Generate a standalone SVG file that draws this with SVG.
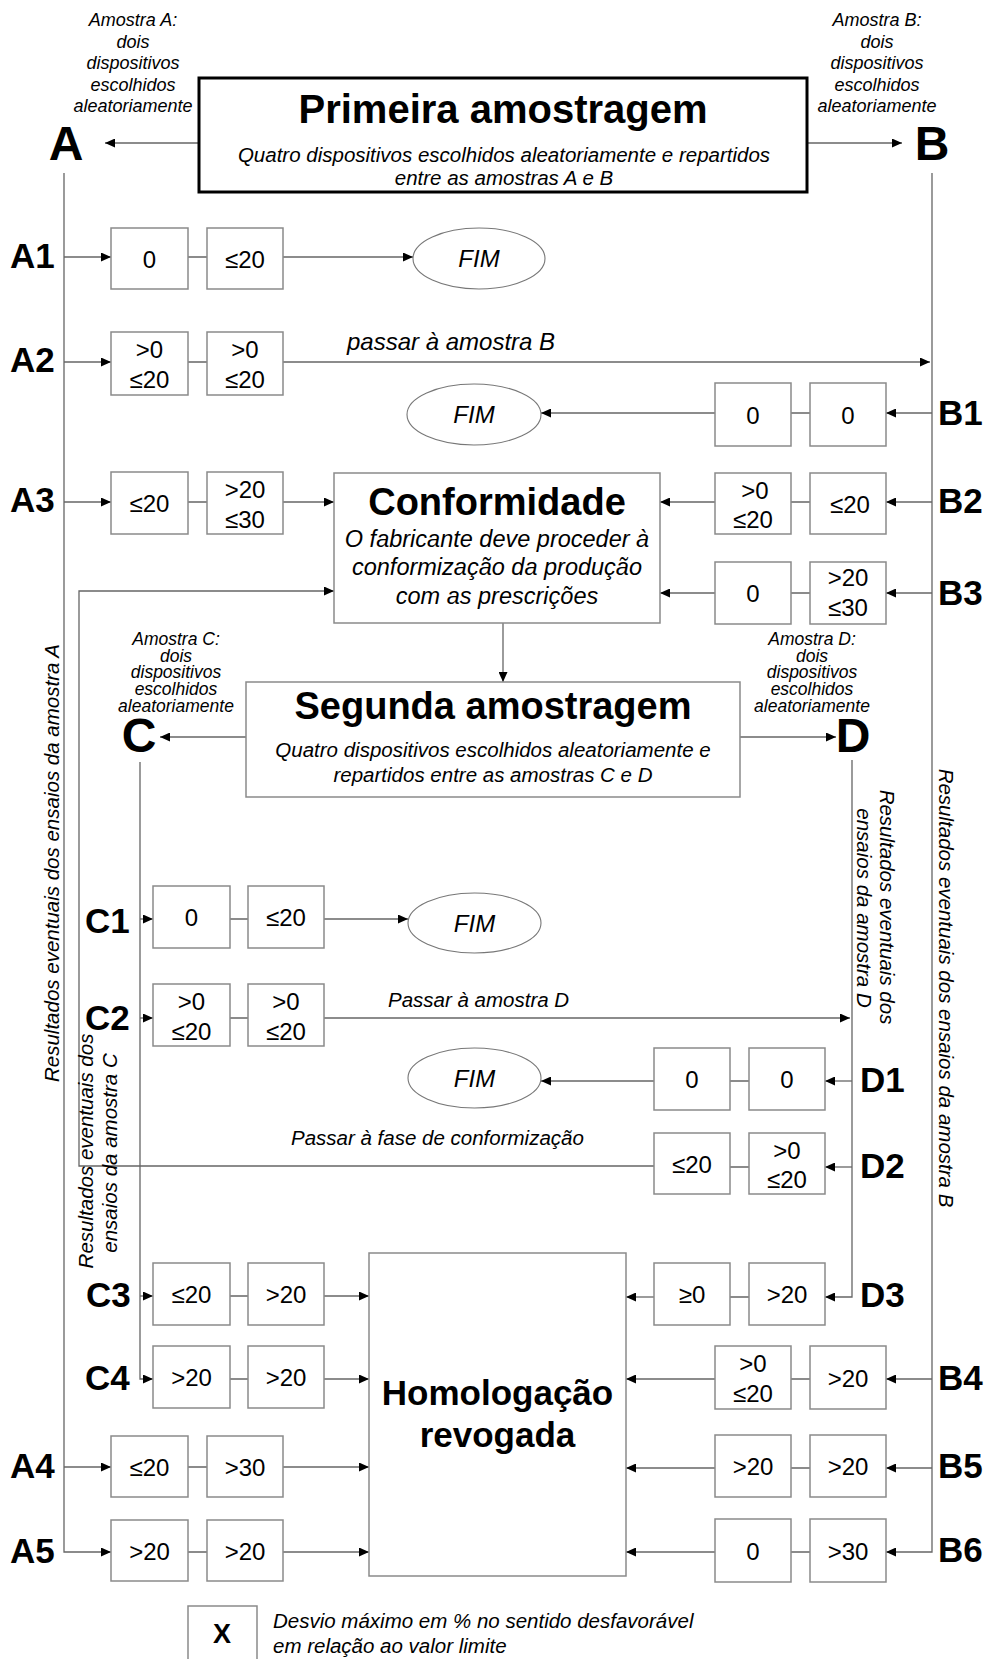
<svg xmlns="http://www.w3.org/2000/svg" width="989" height="1659" viewBox="0 0 989 1659">
<defs>
<marker id="ah" markerUnits="userSpaceOnUse" markerWidth="11" markerHeight="9" refX="10" refY="4.5" orient="auto">
<path d="M0,0 L10,4.5 L0,9 z" fill="#000"/>
</marker>
<style>
.box{fill:#fff;stroke:#8a8a8a;stroke-width:1.5}
.big{fill:#fff;stroke:#8a8a8a;stroke-width:1.5}
.thick{fill:#fff;stroke:#000;stroke-width:3}
.fim{fill:#fff;stroke:#777;stroke-width:1.1}
.conn{stroke:#666;stroke-width:1.3;fill:none}
.arr{marker-end:url(#ah)}
text{font-family:"Liberation Sans",Arial,sans-serif;fill:#000}
.val{font-size:24px;text-anchor:middle}
.lbl{font-size:35px;font-weight:bold}
.let{font-size:48px;font-weight:bold;text-anchor:middle}
.it{font-style:italic}
.sm{font-size:18px;font-style:italic;text-anchor:middle}
.smc{font-size:17.5px;font-style:italic;text-anchor:middle}
.body{font-size:20.5px;font-style:italic}
.mid{text-anchor:middle}
.ttl{font-weight:bold;text-anchor:middle}
</style>
</defs>
<rect width="989" height="1659" fill="#fff"/>

<g id="connectors">
<!-- top sample arrows -->
<path class="conn arr" d="M199,143 H105"/>
<path class="conn arr" d="M807,143 H902"/>
<!-- A trunk -->
<path class="conn arr" d="M64,173 V1552 H111"/>
<path class="conn arr" d="M64,257 H111"/>
<path class="conn arr" d="M64,362 H111"/>
<path class="conn arr" d="M64,502 H111"/>
<path class="conn arr" d="M64,1467 H111"/>
<!-- B trunk -->
<path class="conn arr" d="M932,173 V1552 H886"/>
<path class="conn arr" d="M932,413 H886"/>
<path class="conn arr" d="M932,502 H886"/>
<path class="conn arr" d="M932,593 H886"/>
<path class="conn arr" d="M932,1379 H886"/>
<path class="conn arr" d="M932,1468 H886"/>
<!-- C trunk -->
<path class="conn arr" d="M140,762 V1379 H153"/>
<path class="conn arr" d="M140,919 H153"/>
<path class="conn arr" d="M140,1018 H153"/>
<path class="conn arr" d="M140,1296 H153"/>
<!-- D trunk -->
<path class="conn arr" d="M852,760 V1297 H825"/>
<path class="conn arr" d="M852,1081 H825"/>
<path class="conn arr" d="M852,1167 H825"/>
<!-- pair links -->
<path class="conn" d="M188,257 H207 M188,362 H207 M188,502 H207 M188,1467 H207 M188,1552 H207"/>
<path class="conn" d="M230,919 H248 M230,1018 H248 M230,1296 H248 M230,1379 H248"/>
<path class="conn" d="M791,413 H810 M791,502 H810 M791,593 H810 M791,1379 H810 M791,1468 H810 M791,1552 H810"/>
<path class="conn" d="M730,1081 H749 M730,1167 H749 M730,1297 H749"/>
<!-- outcomes -->
<path class="conn arr" d="M283,257 H413"/>
<path class="conn arr" d="M283,362 H930"/>
<path class="conn arr" d="M715,413 H541"/>
<path class="conn arr" d="M283,502 H334"/>
<path class="conn arr" d="M715,502 H660"/>
<path class="conn arr" d="M715,593 H660"/>
<path class="conn arr" d="M503,623 V682"/>
<path class="conn arr" d="M246,737 H160"/>
<path class="conn arr" d="M740,737 H836"/>
<path class="conn arr" d="M324,919 H408"/>
<path class="conn arr" d="M324,1018 H850"/>
<path class="conn arr" d="M654,1081 H541"/>
<path class="conn arr" d="M654,1166 H79 V591 H334"/>
<path class="conn arr" d="M654,1297 H626"/>
<path class="conn arr" d="M324,1296 H369"/>
<path class="conn arr" d="M324,1379 H369"/>
<path class="conn arr" d="M283,1467 H369"/>
<path class="conn arr" d="M283,1552 H369"/>
<path class="conn arr" d="M715,1379 H626"/>
<path class="conn arr" d="M715,1468 H626"/>
<path class="conn arr" d="M715,1552 H626"/>
<!-- connector labels -->
<text class="it" x="347" y="350" font-size="24">passar à amostra B</text>
<text class="body" x="388" y="1007">Passar à amostra D</text>
<text class="body" x="291" y="1145">Passar à fase de conformização</text>
</g>

<g id="primeira">
<rect class="thick" x="199" y="78" width="608" height="114"/>
<text class="ttl" x="503" y="123" font-size="40">Primeira amostragem</text>
<text class="body mid" x="504" y="162">Quatro dispositivos escolhidos aleatoriamente e repartidos</text>
<text class="body mid" x="504" y="185">entre as amostras A e B</text>
</g>

<g id="sampleA">
<text class="sm" x="133" y="26">Amostra A:</text>
<text class="sm" x="133" y="47.5">dois</text>
<text class="sm" x="133" y="69">dispositivos</text>
<text class="sm" x="133" y="90.5">escolhidos</text>
<text class="sm" x="133" y="112">aleatoriamente</text>
<text class="let" x="66" y="160">A</text>
<text class="body mid" transform="translate(59,863) rotate(-90)">Resultados eventuais dos ensaios da amostra A</text>
</g>

<g id="sampleB">
<text class="sm" x="877" y="26">Amostra B:</text>
<text class="sm" x="877" y="47.5">dois</text>
<text class="sm" x="877" y="69">dispositivos</text>
<text class="sm" x="877" y="90.5">escolhidos</text>
<text class="sm" x="877" y="112">aleatoriamente</text>
<text class="let" x="932" y="160">B</text>
<text class="body mid" transform="translate(939,988) rotate(90)">Resultados eventuais dos ensaios da amostra B</text>
</g>

<g id="fim1"><ellipse class="fim" cx="479" cy="258.5" rx="66" ry="30.5"/><text class="val it" x="479" y="267">FIM</text></g>
<g id="fim2"><ellipse class="fim" cx="474" cy="414.5" rx="67" ry="30.5"/><text class="val it" x="474" y="423">FIM</text></g>
<g id="fim3"><ellipse class="fim" cx="474.5" cy="923" rx="66.5" ry="30"/><text class="val it" x="474.5" y="931.5">FIM</text></g>
<g id="fim4"><ellipse class="fim" cx="474.5" cy="1078" rx="66.5" ry="30"/><text class="val it" x="474.5" y="1086.5">FIM</text></g>

<g id="rowA1">
<text class="lbl" x="10" y="268">A1</text>
<rect class="box" x="111" y="228" width="77" height="61"/><text class="val" x="149.5" y="268">0</text>
<rect class="box" x="207" y="228" width="76" height="61"/><text class="val" x="245" y="268">≤20</text>
</g>
<g id="rowA2">
<text class="lbl" x="10" y="372">A2</text>
<rect class="box" x="111" y="332" width="77" height="63"/><text class="val" x="149.5" y="358">&gt;0</text><text class="val" x="149.5" y="388">≤20</text>
<rect class="box" x="207" y="332" width="76" height="63"/><text class="val" x="245" y="358">&gt;0</text><text class="val" x="245" y="388">≤20</text>
</g>
<g id="rowA3">
<text class="lbl" x="10" y="512">A3</text>
<rect class="box" x="111" y="472" width="77" height="62"/><text class="val" x="149.5" y="512">≤20</text>
<rect class="box" x="207" y="472" width="76" height="62"/><text class="val" x="245" y="498">&gt;20</text><text class="val" x="245" y="528">≤30</text>
</g>
<g id="rowA4">
<text class="lbl" x="10" y="1478">A4</text>
<rect class="box" x="111" y="1436" width="77" height="61"/><text class="val" x="149.5" y="1476">≤20</text>
<rect class="box" x="207" y="1436" width="76" height="61"/><text class="val" x="245" y="1476">&gt;30</text>
</g>
<g id="rowA5">
<text class="lbl" x="10" y="1563">A5</text>
<rect class="box" x="111" y="1520" width="77" height="61"/><text class="val" x="149.5" y="1560">&gt;20</text>
<rect class="box" x="207" y="1520" width="76" height="61"/><text class="val" x="245" y="1560">&gt;20</text>
</g>

<g id="rowB1">
<text class="lbl" x="938" y="425">B1</text>
<rect class="box" x="715" y="383" width="76" height="63"/><text class="val" x="753" y="424">0</text>
<rect class="box" x="810" y="383" width="76" height="63"/><text class="val" x="848" y="424">0</text>
</g>
<g id="rowB2">
<text class="lbl" x="938" y="513">B2</text>
<rect class="box" x="715" y="473" width="76" height="61"/><text class="val" x="755" y="499">&gt;0</text><text class="val" x="753" y="528">≤20</text>
<rect class="box" x="810" y="473" width="76" height="61"/><text class="val" x="850" y="513">≤20</text>
</g>
<g id="rowB3">
<text class="lbl" x="938" y="605">B3</text>
<rect class="box" x="715" y="562" width="76" height="62"/><text class="val" x="753" y="602">0</text>
<rect class="box" x="810" y="562" width="76" height="62"/><text class="val" x="848" y="586">&gt;20</text><text class="val" x="848" y="616">≤30</text>
</g>
<g id="rowB4">
<text class="lbl" x="938" y="1390">B4</text>
<rect class="box" x="715" y="1346" width="76" height="63"/><text class="val" x="753" y="1372">&gt;0</text><text class="val" x="753" y="1402">≤20</text>
<rect class="box" x="810" y="1346" width="76" height="63"/><text class="val" x="848" y="1387">&gt;20</text>
</g>
<g id="rowB5">
<text class="lbl" x="938" y="1478">B5</text>
<rect class="box" x="715" y="1435" width="76" height="62"/><text class="val" x="753" y="1475">&gt;20</text>
<rect class="box" x="810" y="1435" width="76" height="62"/><text class="val" x="848" y="1475">&gt;20</text>
</g>
<g id="rowB6">
<text class="lbl" x="938" y="1562">B6</text>
<rect class="box" x="715" y="1519" width="76" height="63"/><text class="val" x="753" y="1560">0</text>
<rect class="box" x="810" y="1519" width="76" height="63"/><text class="val" x="848" y="1560">&gt;30</text>
</g>

<g id="conformidade">
<rect class="big" x="334" y="473" width="326" height="150"/>
<text class="ttl" x="497" y="515" font-size="38">Conformidade</text>
<text class="it mid" x="497" y="547" font-size="23.5">O fabricante deve proceder à</text>
<text class="it mid" x="497" y="575" font-size="23.5">conformização da produção</text>
<text class="it mid" x="497" y="604" font-size="23.5">com as prescrições</text>
</g>

<g id="segunda">
<rect class="big" x="246" y="682" width="494" height="115"/>
<text class="ttl" x="493" y="719" font-size="38">Segunda amostragem</text>
<text class="body mid" x="493" y="757">Quatro dispositivos escolhidos aleatoriamente e</text>
<text class="body mid" x="493" y="782">repartidos entre as amostras C e D</text>
</g>

<g id="sampleC">
<text class="smc" x="176" y="645">Amostra C:</text>
<text class="smc" x="176" y="661.5">dois</text>
<text class="smc" x="176" y="678">dispositivos</text>
<text class="smc" x="176" y="695">escolhidos</text>
<text class="smc" x="176" y="712">aleatoriamente</text>
<text class="let" x="139" y="752" font-size="45">C</text>
<text class="body mid" transform="translate(93,1151) rotate(-90)">Resultados eventuais dos</text>
<text class="body mid" transform="translate(117,1153) rotate(-90)">ensaios da amostra C</text>
</g>

<g id="sampleD">
<text class="smc" x="812" y="645">Amostra D:</text>
<text class="smc" x="812" y="661.5">dois</text>
<text class="smc" x="812" y="678">dispositivos</text>
<text class="smc" x="812" y="695">escolhidos</text>
<text class="smc" x="812" y="712">aleatoriamente</text>
<text class="let" x="853" y="752" font-size="45">D</text>
<text class="body mid" transform="translate(880,907) rotate(90)">Resultados eventuais dos</text>
<text class="body mid" transform="translate(857,908) rotate(90)">ensaios da amostra D</text>
</g>

<g id="rowC1">
<text class="lbl" x="85" y="933">C1</text>
<rect class="box" x="153" y="886" width="77" height="62"/><text class="val" x="191.5" y="926">0</text>
<rect class="box" x="248" y="886" width="76" height="62"/><text class="val" x="286" y="926">≤20</text>
</g>
<g id="rowC2">
<text class="lbl" x="85" y="1030">C2</text>
<rect class="box" x="153" y="984" width="77" height="62"/><text class="val" x="191.5" y="1010">&gt;0</text><text class="val" x="191.5" y="1040">≤20</text>
<rect class="box" x="248" y="984" width="76" height="62"/><text class="val" x="286" y="1010">&gt;0</text><text class="val" x="286" y="1040">≤20</text>
</g>
<g id="rowC3">
<text class="lbl" x="86" y="1307">C3</text>
<rect class="box" x="153" y="1263" width="77" height="62"/><text class="val" x="191.5" y="1303">≤20</text>
<rect class="box" x="248" y="1263" width="76" height="62"/><text class="val" x="286" y="1303">&gt;20</text>
</g>
<g id="rowC4">
<text class="lbl" x="85" y="1390">C4</text>
<rect class="box" x="153" y="1346" width="77" height="62"/><text class="val" x="191.5" y="1386">&gt;20</text>
<rect class="box" x="248" y="1346" width="76" height="62"/><text class="val" x="286" y="1386">&gt;20</text>
</g>

<g id="rowD1">
<text class="lbl" x="860" y="1092">D1</text>
<rect class="box" x="654" y="1048" width="76" height="62"/><text class="val" x="692" y="1088">0</text>
<rect class="box" x="749" y="1048" width="76" height="62"/><text class="val" x="787" y="1088">0</text>
</g>
<g id="rowD2">
<text class="lbl" x="860" y="1178">D2</text>
<rect class="box" x="654" y="1133" width="76" height="61"/><text class="val" x="692" y="1173">≤20</text>
<rect class="box" x="749" y="1133" width="76" height="61"/><text class="val" x="787" y="1159">&gt;0</text><text class="val" x="787" y="1188">≤20</text>
</g>
<g id="rowD3">
<text class="lbl" x="860" y="1307">D3</text>
<rect class="box" x="654" y="1263" width="76" height="62"/><text class="val" x="692" y="1303">≥0</text>
<rect class="box" x="749" y="1263" width="76" height="62"/><text class="val" x="787" y="1303">&gt;20</text>
</g>

<g id="homologacao">
<rect class="big" x="369" y="1253" width="257" height="323"/>
<text class="ttl" x="497.5" y="1405" font-size="35">Homologação</text>
<text class="ttl" x="497.5" y="1447" font-size="35">revogada</text>
</g>

<g id="legend">
<rect class="box" x="188" y="1606" width="69" height="62"/>
<text class="ttl" x="222" y="1643" font-size="27">X</text>
<text class="body" x="273" y="1628">Desvio máximo em % no sentido desfavorável</text>
<text class="body" x="273" y="1653">em relação ao valor limite</text>
</g>
</svg>
